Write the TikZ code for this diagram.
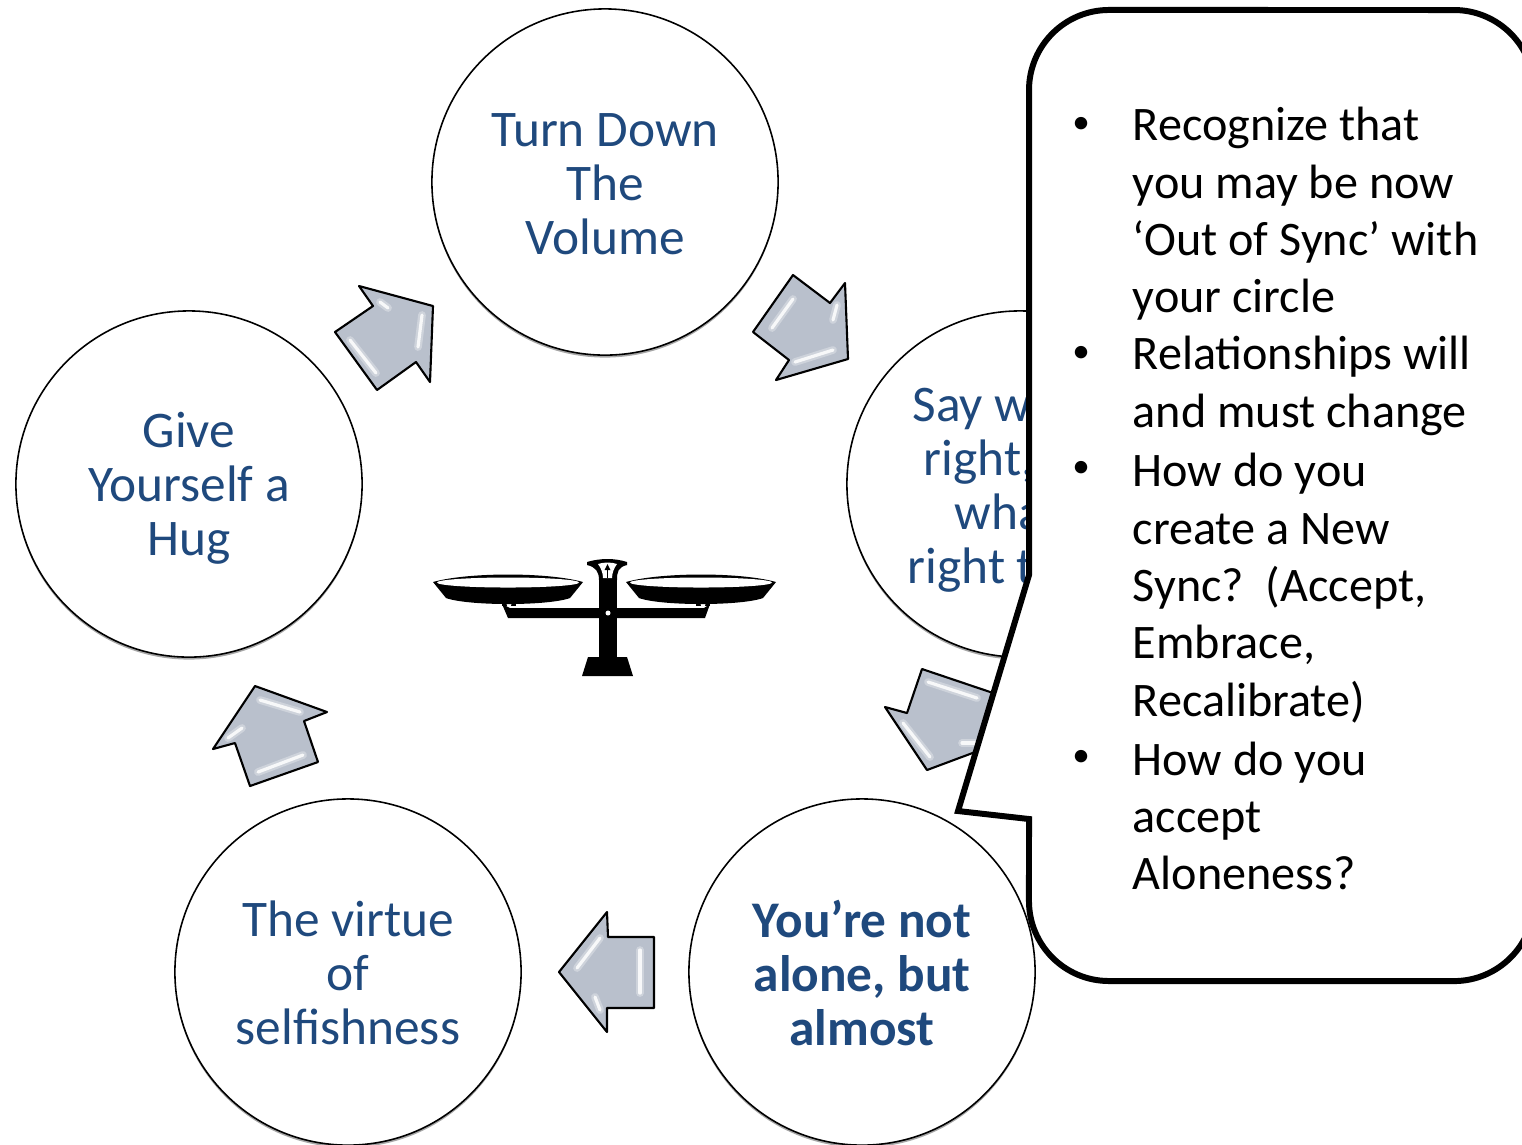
\documentclass[tikz,border=0pt]{standalone}
\usepackage{xcolor}
\usepackage{fontspec}
\setmainfont{Carlito}
\usetikzlibrary{shadows}
\definecolor{titleblue}{HTML}{1F497D}
\definecolor{arrowgrey}{HTML}{B9C0CC}
\tikzset{
    bubble/.style={circle,draw=black,line width=0.45pt,fill=white,minimum size=3.46cm,inner sep=0pt,
        drop shadow={shadow xshift=0pt,shadow yshift=-0.7pt,fill=black,opacity=0.35}},
    bubbletext/.style={align=center,inner sep=0pt,text=titleblue,font=\fontsize{14.6}{15.4}\selectfont},
    blockarrow/.style={draw=black,line width=0.6pt,line join=round,fill=arrowgrey},
    shine/.style={white,line width=0.9pt,line cap=round,opacity=0.85,
        preaction={draw,white,line width=2.2pt,line cap=round,opacity=0.3}},
    listtext/.style={anchor=west,align=left,inner sep=0pt,font=\fontsize{13.7}{16.3}\selectfont},
    listdot/.style={inner sep=0pt,font=\fontsize{10}{10}\selectfont}
}
\begin{document}
\begin{tikzpicture}[x=0.01cm,y=-0.01cm]
    \useasboundingbox (0,0) rectangle (1522,1144);
    \clip (0,0) rectangle (1522,1144);
    % circles
    \node[bubble] (turn) at (605,182) {};
    \node[bubble] (say) at (1020,484) {};
    \node[bubble] (alone) at (862,972) {};
    \node[bubble] (virtue) at (348,972) {};
    \node[bubble] (hug) at (189,484) {};
    \node[bubbletext] (turnlabel) at (605,184) {Turn Down\\The\\Volume};
    \node[bubbletext,align=left,anchor=west] (saylabel) at (907,490) {\hspace*{0.05cm}Say w\\\hspace*{0.16cm}right,\\\hspace*{0.47cm}wha\\right t};
    \node[bubbletext] (alonelabel) at (862,973) {\textbf{You’re not}\\\textbf{alone, but}\\\textbf{almost}};
    \node[bubbletext] (virtuelabel) at (348,973) {The virtue\\of\\selfishness};
    \node[bubbletext] (huglabel) at (189,488) {Give\\Yourself a\\Hug};
    % arrows
    \draw[blockarrow] (793,275) -- (830,303) -- (845,283) -- (848,359) -- (776,380) -- (789,360) -- (753,332) -- cycle;
    \draw[shine] (793,299) -- (772,328);
    \draw[shine] (795,362) -- (833,350);
    \draw[shine] (837,305) -- (833,320);
    \draw[blockarrow] (922,669) -- (1005,697) -- (985,725) -- (1002,742) -- (927,770) -- (885,707) -- (907,713) -- cycle;
    \draw[shine] (928,682) -- (977,698);
    \draw[shine] (903,723) -- (930,757);
    \draw[shine] (962,743) -- (977,743);
    \draw[blockarrow] (654,937) -- (654,1008) -- (607,1008) -- (607,1032) -- (559,972) -- (607,912) -- (608,937) -- cycle;
    \draw[shine] (600,938) -- (577,968);
    \draw[shine] (640,950) -- (640,993);
    \draw[shine] (595,997) -- (600,1010);
    \draw[blockarrow] (255,686) -- (327,712) -- (304,721) -- (318,762) -- (250,786) -- (235,743) -- (213,749) -- cycle;
    \draw[shine] (260,700) -- (300,712);
    \draw[shine] (258,772) -- (303,755);
    \draw[shine] (228,738) -- (242,728);
    \draw[blockarrow] (359,286) -- (433,306) -- (430,382) -- (416,362) -- (377,390) -- (335,332) -- (373,306) -- cycle;
    \draw[shine] (380,302) -- (388,308);
    \draw[shine] (350,340) -- (376,373);
    \draw[shine] (422,315) -- (418,347);
    % scales
    \fill (599,660) rectangle (617,573);
    \fill (582,676) -- (588,657) -- (627,657) -- (633,676) -- cycle;
    \fill (502,604) -- (508,618) -- (705,618) -- (710,604) -- (704,608) -- (510,608) -- cycle;
    \fill (502,600) rectangle (516,606);
    \fill (696,600) rectangle (710,606);
    \fill[white] (509,604) circle[radius=0.025cm];
    \fill[white] (703,604) circle[radius=0.025cm];
    \fill (587,562) .. controls (600,558) and (615,558) .. (627,562) -- (627,565) .. controls (618,567) and (617,572) .. (617,580) -- (599,580) .. controls (599,572) and (596,567) .. (587,565) -- cycle;
    \fill[white] (598,564) .. controls (604,562) and (611,562) .. (617,564) .. controls (614,568) and (612,573) .. (612,578) -- (603,578) .. controls (603,573) and (601,568) .. (598,564) -- cycle;
    \draw[line width=0.3pt] (607.5,578) -- (607.5,568);
    \fill (604.5,570) -- (607.5,564) -- (610.5,570) -- cycle;
    \fill[white] (608,613) circle[radius=0.025cm];
    \foreach \px in {508,701} {
        \fill (\px-75,582) .. controls (\px-40,572) and (\px+40,572) .. (\px+75,582) -- (\px+62,598) .. controls (\px+40,606) and (\px-40,606) .. (\px-62,598) -- cycle;
        \fill[white] (\px,582.5) ellipse[x radius=0.71cm,y radius=0.05cm];
    }
    % callout
    \draw[line width=1.7pt,fill=white,line join=miter] (1029,575) -- (1029,90) arc[start angle=180,end angle=90,radius=0.8cm] -- (1454,10) arc[start angle=90,end angle=0,radius=0.8cm] -- (1534,901) arc[start angle=0,end angle=-90,radius=0.8cm] -- (1109,981) arc[start angle=-90,end angle=-180,radius=0.8cm] -- (1029,819) -- (958,811) -- cycle;
    % list
    \foreach \i/\ypos in {1/125,2/354,3/469,4/758} {
        \node[listdot] (dot\i) at (1081,\ypos) {•};
    }
    \node[listtext] (recognize) at (1132,214) {Recognize that\\you may be now\\‘Out of Sync’ with\\your circle};
    \node[listtext] (relations) at (1132,386) {Relationships will\\and must change};
    \node[listtext] (create) at (1132,588) {How do you\\create a New\\Sync?\ \ (Accept,\\Embrace,\\Recalibrate)};
    \node[listtext] (accept) at (1132,816) {How do you\\accept\\Aloneness?};
\end{tikzpicture}
\end{document}
